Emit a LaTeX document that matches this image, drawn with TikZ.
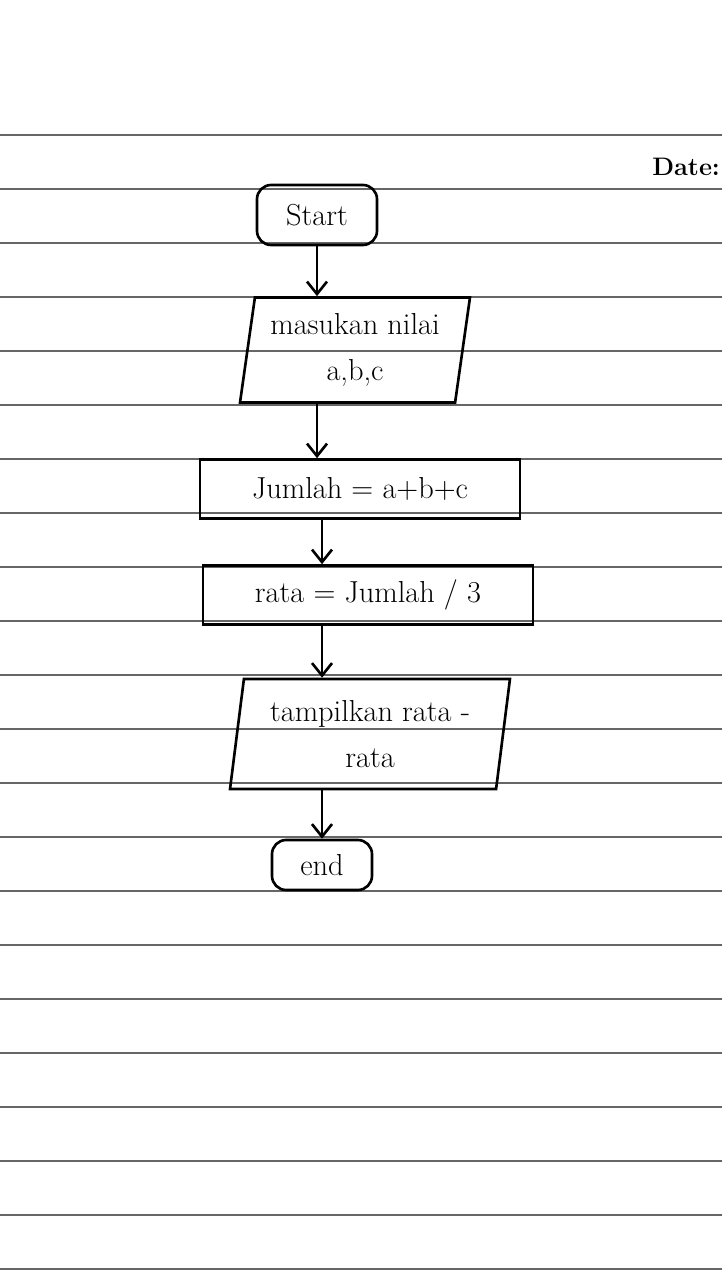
\documentclass[tikz,border=0pt]{standalone}
\usepackage{tikz}
\usetikzlibrary{shapes.geometric,arrows.meta,positioning}

\begin{document}
\begin{tikzpicture}[
    x=0.02cm, y=-0.02cm,
    ruled/.style={black!60, line width=0.9pt},
    terminal/.style={rectangle, rounded corners=8pt, draw, line width=1.5pt, minimum width=2.4cm, minimum height=1.2cm, font=\LARGE},
    io/.style={trapezium, trapezium left angle=80, trapezium right angle=100, trapezium stretches body, draw, line width=1.5pt, align=center, minimum width=4.6cm, minimum height=2.1cm, font=\LARGE},
    process/.style={rectangle, draw, line width=1.5pt, minimum height=1.18cm, font=\LARGE},
    arrow/.style={line width=1.5pt, -{Straight Barb[length=2.5mm, width=4mm]}}
]
\useasboundingbox (0,0) rectangle (722,1280);

% Ruled paper
\foreach \y in {135,189,...,1269}
    \draw[ruled] (0,\y) -- (722,\y);
\node[anchor=east, font=\Large\bfseries, inner sep=1pt] (date) at (722,167) {Date:};

% Flowchart boxes
\node[terminal] (start) at (317,215) {Start};
\node[io] (input) at (355,350) {masukan nilai\\[4pt]a,b,c};
\node[process, minimum width=6.4cm] (jumlah) at (360,489) {Jumlah = a+b+c};
\node[process, minimum width=6.6cm] (rata) at (368,595) {rata = Jumlah / 3};
\node[io, minimum width=5.6cm, minimum height=2.2cm] (output) at (370,734) {tampilkan rata -\\[4pt]rata};
\node[terminal, minimum width=2cm, minimum height=1cm] (end) at (322,865) {end};

% Arrows
\draw[arrow] (start) -- (start |- input.north);
\draw[arrow] (input.south -| start) -- (start |- jumlah.north);
\draw[arrow] (jumlah.south -| end) -- (end |- rata.north);
\draw[arrow] (rata.south -| end) -- (end |- output.north);
\draw[arrow] (output.south -| end) -- (end);

\end{tikzpicture}
\end{document}
